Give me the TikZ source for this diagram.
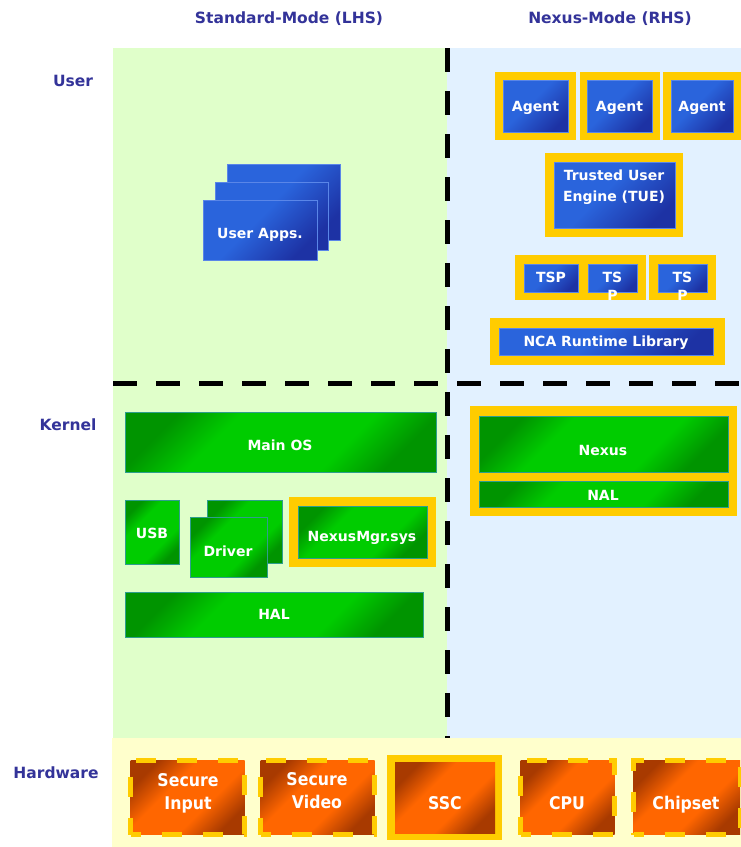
\documentclass[tikz,border=0pt]{standalone}
\usepackage{fontspec}
\setmainfont{DejaVu Sans}
\newfontfamily\hwfam{DejaVu Sans}[FakeStretch=0.9]
\definecolor{hdr}{HTML}{333399}
\definecolor{lgreen}{HTML}{E0FFCA}
\definecolor{lblue}{HTML}{E2F1FF}
\definecolor{lyel}{HTML}{FFFFCC}
\definecolor{gold}{HTML}{FFCC00}
\definecolor{bluelt}{HTML}{2A64DC}
\definecolor{bluedk}{HTML}{1D32A4}
\definecolor{blueedge}{HTML}{5A86E8}
\definecolor{grnlt}{HTML}{00CC00}
\definecolor{grndk}{HTML}{009400}
\definecolor{greenedge}{HTML}{2E9E8E}
\definecolor{orglt}{HTML}{FF6600}
\definecolor{orgdk}{HTML}{A83A00}
\pgfdeclareverticalshading{grnsh}{100bp}{color(0bp)=(grndk); color(25bp)=(grndk); color(37bp)=(grnlt); color(63bp)=(grnlt); color(75bp)=(grndk); color(100bp)=(grndk)}
\pgfdeclareverticalshading{orgsh}{100bp}{color(0bp)=(orgdk); color(25bp)=(orgdk); color(40bp)=(orglt); color(60bp)=(orglt); color(75bp)=(orgdk); color(100bp)=(orgdk)}
\pgfdeclareverticalshading{blush}{100bp}{color(0bp)=(bluedk); color(25bp)=(bluedk); color(55bp)=(bluelt); color(75bp)=(bluelt); color(100bp)=(bluelt)}
\tikzset{
  bx/.style={rectangle, inner sep=0pt, outer sep=0pt},
  frm/.style={bx, fill=gold},
  bluebox/.style={bx, draw=blueedge, line width=0.7pt, shading=blush, shading angle=45},
  greenbox/.style={bx, draw=greenedge, line width=0.7pt, shading=grnsh, shading angle=45},
  orgbox/.style={bx, shading=orgsh, shading angle=45},
  hwdash/.style={orgbox, draw=gold, line width=5pt, dash pattern=on 20pt off 21pt, dash phase=10pt},
  wtxt/.style={text=white, font=\bfseries\fontsize{14}{21}\selectfont, inner sep=0pt, text height=10.2pt, text depth=0pt},
  wtxtm/.style={text=white, font=\bfseries\fontsize{14}{21}\selectfont, inner sep=0pt, align=center},
  hwtxt/.style={text=white, font=\hwfam\bfseries\fontsize{17.5}{23}\selectfont, inner sep=0pt, text height=12.8pt, text depth=0pt},
  hwtxtm/.style={text=white, font=\hwfam\bfseries\fontsize{17.5}{23}\selectfont, inner sep=0pt, align=center},
  hdrtxt/.style={text=hdr, font=\bfseries\fontsize{15.5}{18}\selectfont, inner sep=0pt, text height=11.3pt, text depth=0pt},
  sepline/.style={line width=5pt, black, dash pattern=on 24pt off 19pt},
}
\newcommand{\bx}[6]{\node[#6, minimum width={(#4-#2)*1pt}, minimum height={(#5-#3)*1pt}] (#1) at ({(#2+#4)/2},{(#3+#5)/2}) {};}
\begin{document}
\begin{tikzpicture}[x=1pt,y=-1pt]
\useasboundingbox (0,0) rectangle (741,847);
% backgrounds
\bx{bgL}{113}{48}{447}{738}{bx, fill=lgreen}
\bx{bgR}{447}{48}{741}{738}{bx, fill=lblue}
\bx{bgH}{112}{738}{741}{847}{bx, fill=lyel}
% separators
\coordinate (vtop) at (447,48);
\coordinate (vbot) at (447,738);
\coordinate (hl) at (113,383);
\coordinate (hr) at (741,383);
\draw[sepline] (vtop) -- (vbot);
\draw[sepline] (hl) -- (hr);
% headers
\node[hdrtxt] (hLHS) at (289,18) {Standard-Mode (LHS)};
\node[hdrtxt] (hRHS) at (610,18) {Nexus-Mode (RHS)};
\node[hdrtxt] (hUser) at (73,81) {User};
\node[hdrtxt] (hKern) at (68,425) {Kernel};
\node[hdrtxt] (hHw) at (56,773) {Hardware};
% ---- User, RHS
\bx{a1f}{495}{72}{576}{140}{frm}
\bx{a1}{503}{80}{568}{132}{bluebox}
\bx{a2f}{580}{72}{660}{140}{frm}
\bx{a2}{587}{80}{652}{132}{bluebox}
\bx{a3f}{663}{72}{743}{140}{frm}
\bx{a3}{671}{80}{733}{132}{bluebox}
\node[wtxt] (ta1) at (a1) {Agent};
\node[wtxt] (ta2) at (a2) {Agent};
\node[wtxt] (ta3) at (a3) {Agent};
\bx{tuef}{545}{153}{683}{237}{frm}
\bx{tue}{554}{162}{675}{228}{bluebox}
\node[wtxtm] (ttue) at (614,187) {Trusted User\\Engine (TUE)};
\bx{tspf1}{515}{255}{646}{300}{frm}
\bx{tsp1}{524}{264}{578}{292}{bluebox}
\bx{tsp2}{588}{264}{637}{292}{bluebox}
\bx{tspf2}{649}{255}{716}{300}{frm}
\bx{tsp3}{658}{264}{707}{292}{bluebox}
\node[wtxt] (ttsp1) at (551,277) {TSP};
\node[wtxtm, font=\bfseries\fontsize{14}{18}\selectfont] (ttsp2) at (612.5,286) {TS\\P};
\node[wtxtm, font=\bfseries\fontsize{14}{18}\selectfont] (ttsp3) at (682.5,286) {TS\\P};
\bx{ncaf}{490}{318}{725}{365}{frm}
\bx{nca}{499}{328}{713}{355}{bluebox}
\node[wtxt] (tnca) at (606,341.5) {NCA Runtime Library};
% ---- User, LHS
\bx{ua3}{227}{164}{340}{240}{bluebox}
\bx{ua2}{215}{182}{328}{250}{bluebox}
\bx{ua1}{203}{200}{317}{260}{bluebox}
\node[wtxt] (tua) at (260,233) {User Apps.};
% ---- Kernel, LHS
\bx{mos}{125}{412}{436}{472}{greenbox}
\node[wtxt] (tmos) at (280,445) {Main OS};
\bx{usb}{125}{500}{179}{564}{greenbox}
\node[wtxt] (tusb) at (152,533) {USB};
\bx{drv2}{207}{500}{282}{563}{greenbox}
\bx{drv1}{190}{517}{267}{577}{greenbox}
\node[wtxt] (tdrv) at (228,551) {Driver};
\bx{nmf}{289}{497}{436}{567}{frm}
\bx{nm}{298}{506}{427}{558}{greenbox}
\node[wtxt] (tnm) at (362,536) {NexusMgr.sys};
\bx{hal}{125}{592}{423}{637}{greenbox}
\node[wtxt] (thal) at (274,614) {HAL};
% ---- Kernel, RHS
\bx{nxf}{470}{406}{737}{516}{frm}
\bx{nx}{479}{416}{728}{472}{greenbox}
\bx{nal}{479}{481}{728}{507}{greenbox}
\node[wtxt] (tnx) at (603,450) {Nexus};
\node[wtxt] (tnal) at (603,495) {NAL};
% ---- Hardware
\bx{si}{130.5}{760.5}{244.5}{834.5}{hwdash}
\bx{sv}{260.5}{760.5}{374.5}{834.5}{hwdash}
\bx{sscf}{387}{755}{502}{840}{frm}
\bx{ssc}{395}{762}{495}{833}{orgbox}
\bx{cpu}{520.5}{760.5}{614.5}{834.5}{hwdash}
\bx{chip}{633.5}{760.5}{740}{834.5}{hwdash}
\node[hwtxtm] (tsi) at (188,793) {Secure\\Input};
\node[hwtxtm] (tsv) at (317,791) {Secure\\Video};
\node[hwtxt] (tssc) at (445,803) {SSC};
\node[hwtxt] (tcpu) at (567,803) {CPU};
\node[hwtxt] (tchip) at (686,803) {Chipset};
\end{tikzpicture}
\end{document}
